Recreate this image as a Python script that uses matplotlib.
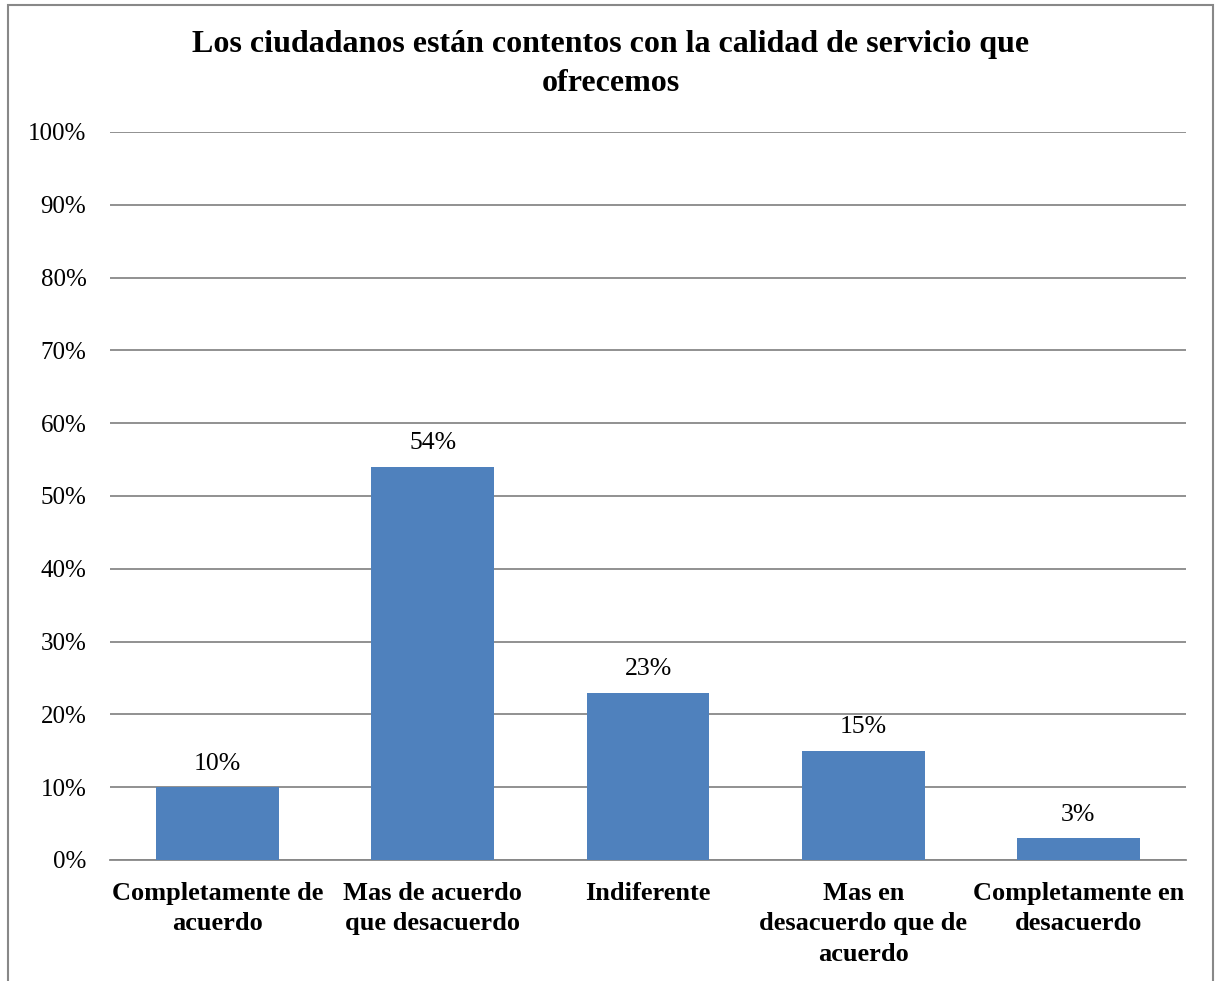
import matplotlib.pyplot as plt
from matplotlib.patches import Rectangle
from matplotlib.ticker import MultipleLocator, PercentFormatter

plt.switch_backend('Agg')

# Datos del grafico
categorias = ['Completamente de\nacuerdo', 'Mas de acuerdo\nque desacuerdo', 'Indiferente',
              'Mas en\ndesacuerdo que de\nacuerdo', 'Completamente en\ndesacuerdo']
valores = [10, 54, 23, 15, 3]
titulo = 'Los ciudadanos están contentos con la calidad de servicio que\nofrecemos'

plt.rcParams['font.family'] = ['Liberation Serif', 'DejaVu Serif']

fig = plt.figure(figsize=(12.15, 9.81), dpi=100)
ax = fig.add_axes([110 / 1215, 1 - 860 / 981, 1076 / 1215, 728 / 981])

x = range(len(categorias))
bars = ax.bar(x, valores, width=0.57, color='#4F81BD', zorder=3)

for b, v in zip(bars, valores):
    ax.annotate(f'{v}%', (b.get_x() + b.get_width() / 2, b.get_height()),
                xytext=(0, 9), textcoords='offset points',
                ha='center', va='bottom', fontsize=18.5)

ax.set_xlim(-0.5, len(categorias) - 0.5)
ax.set_ylim(0, 100)
ax.yaxis.set_major_locator(MultipleLocator(10))
ax.yaxis.set_major_formatter(PercentFormatter(decimals=0))
ax.grid(axis='y', color='#888888', linewidth=1.3, zorder=0)

for s in ['top', 'right', 'left']:
    ax.spines[s].set_visible(False)
ax.spines['bottom'].set_color('#888888')
ax.spines['bottom'].set_linewidth(1.3)

ax.set_xticks(list(x))
ax.set_xticklabels(categorias, fontsize=19, fontweight='bold', linespacing=1.4)
ax.tick_params(axis='x', length=0, pad=16)
ax.tick_params(axis='y', length=0, pad=17, labelsize=18)

fig.text(611 / 1215, 1 - 64 / 981, titulo, ha='center', va='center',
         fontsize=23, fontweight='bold', linespacing=1.42)

# Borde del area del grafico
fig.patches.append(Rectangle((8 / 1215, -0.02), 1205 / 1215, 1 - 5 / 981 + 0.02,
                             transform=fig.transFigure, fill=False,
                             edgecolor='#888888', linewidth=1.5))

plt.savefig('out.png', dpi=100)
plt.close()
